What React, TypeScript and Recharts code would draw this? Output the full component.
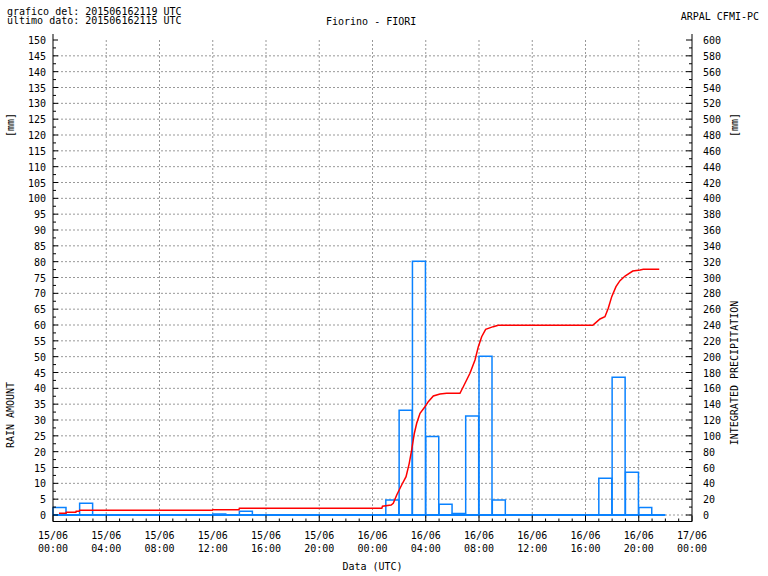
import React from "react";
import { ComposedChart, Bar, Line, XAxis, YAxis, CartesianGrid } from "recharts";

const FONT = "'DejaVu Sans Mono', monospace";

// hourly categories (hours since 15/06 00:00 UTC)
const hourCategories = Array.from({ length: 48 }, (_, i) => i);
// hourly rain amount [mm]
const rainHourly = [
  2.4, 0, 3.7, 0, 0, 0, 0, 0, 0, 0, 0, 0, 0.3, 0, 1.2, 0, 0, 0, 0, 0, 0, 0, 0, 0,
  0, 4.7, 33.1, 80.1, 24.8, 3.4, 0.5, 31.3, 50.1, 4.7, 0, 0, 0, 0, 0, 0, 0, 11.6, 43.5, 13.5, 2.4, 0,
];
// integrated precipitation [mm] (time in hours, value)
const cumHours = [
  0.45, 0.98, 1.0, 1.72, 1.74, 1.97, 2.0, 11.97, 12.0, 13.97, 14.0, 24.7, 24.75, 25.4, 25.56, 25.82,
  26.19, 26.52, 26.76, 26.94, 27.14, 27.32, 27.57, 27.94, 28.19, 28.57, 29.07, 29.57, 30.57, 30.82,
  31.32, 31.7, 31.95, 32.2, 32.5, 33.07, 33.45, 40.54, 40.71, 41.09, 41.46, 41.71, 41.97, 42.29,
  42.59, 42.97, 43.55, 44.1, 44.34, 45.54,
];
const cumValues = [
  2.1, 2.1, 3.4, 3.4, 4.7, 4.7, 5.9, 5.9, 6.7, 6.7, 8.4, 8.4, 11.0, 12.6, 14.7, 25.3, 37.9, 48.4,
  65.3, 82, 103, 115.8, 128.4, 136.8, 143.2, 150.3, 152.8, 153.7, 153.7, 162, 179, 195.8, 212.6,
  225.2, 234.5, 237.9, 239.6, 239.6, 242.1, 247.6, 250.5, 261.1, 275.8, 288.4, 296, 301.9, 308.2,
  309.5, 310.3, 310.3,
];
// extent of the recorded hourly series (baseline)
const baselineHours = [0, 46];

const xTickDates = ["15/06", "15/06", "15/06", "15/06", "15/06", "15/06", "16/06", "16/06", "16/06", "16/06", "16/06", "16/06", "17/06"];
const xTickTimes = ["00:00", "04:00", "08:00", "12:00", "16:00", "20:00", "00:00", "04:00", "08:00", "12:00", "16:00", "20:00", "00:00"];

const xTicks = Array.from({ length: 49 }, (_, i) => i);
const leftTicks = Array.from({ length: 61 }, (_, i) => i * 2.5);
const rightTicks = Array.from({ length: 61 }, (_, i) => i * 10);
const leftGrid = Array.from({ length: 30 }, (_, i) => i * 5);
const vGrid = Array.from({ length: 11 }, (_, i) => (i + 1) * 4);

const barData = hourCategories.map((h, i) => ({ h, rain: i < rainHourly.length ? rainHourly[i] : null }));
const cumData = cumHours.map((t, i) => ({ t, cum: cumValues[i] }));
const baseData = baselineHours.map((t) => ({ t, zero: 0 }));

const BLUE = "#0a82ff";
const RED = "#ff0000";

const BottomTick = (props: any) => {
  const { x, y, payload } = props;
  const v = payload.value;
  const major = v % 4 === 0;
  const idx = v / 4;
  return (
    <g>
      <line x1={x} y1={y} x2={x} y2={y - (major ? 6 : 3)} stroke="#000" />
      {major && (
        <text x={x} y={y + 17.5} textAnchor="middle" fontFamily={FONT} fontSize={10} fill="#000">
          {xTickDates[idx]}
        </text>
      )}
      {major && (
        <text x={x} y={y + 30.5} textAnchor="middle" fontFamily={FONT} fontSize={10} fill="#000">
          {xTickTimes[idx]}
        </text>
      )}
    </g>
  );
};

const TopTick = (props: any) => {
  const { x, y, payload } = props;
  const major = payload.value % 4 === 0;
  return <line x1={x} y1={y} x2={x} y2={y - (major ? 6 : 3)} stroke="#000" />;
};

const LeftTick = (props: any) => {
  const { x, y, payload } = props;
  const v = payload.value;
  const major = v % 5 === 0;
  return (
    <g>
      <line x1={x} y1={y} x2={x + (major ? 5 : 3)} y2={y} stroke="#000" />
      {v === 150 && <line x1={x} y1={y} x2={x} y2={y - 6} stroke="#000" />}
      {major && (
        <text x={x - 7} y={y + 4} textAnchor="end" fontFamily={FONT} fontSize={10} fill="#000">
          {v}
        </text>
      )}
    </g>
  );
};

const RightTick = (props: any) => {
  const { x, y, payload } = props;
  const v = payload.value;
  const major = v % 20 === 0;
  return (
    <g>
      <line x1={x} y1={y} x2={x - (major ? 6 : 3)} y2={y} stroke="#000" />
      {v === 600 && <line x1={x} y1={y} x2={x} y2={y - 6} stroke="#000" />}
      {major && (
        <text x={x + 11} y={y + 4} textAnchor="start" fontFamily={FONT} fontSize={10} fill="#000">
          {v}
        </text>
      )}
    </g>
  );
};

export default function App() {
  const txt = { fontFamily: FONT, fontSize: 10, fill: "#000" } as const;
  return (
    <div style={{ position: "absolute", left: 0, top: 0, width: 768, height: 576, background: "#fff" }}>
      <ComposedChart
        width={768}
        height={576}
        data={barData}
        margin={{ top: 40, right: 0, bottom: 0, left: 0 }}
        barCategoryGap={0}
        barGap={0}
      >
        <CartesianGrid
          xAxisId="t"
          yAxisId="left"
          horizontalValues={leftGrid}
          verticalValues={vGrid}
          stroke="#999"
          strokeDasharray="2 2"
        />
        <XAxis
          xAxisId="t"
          dataKey="t"
          type="number"
          domain={[0, 48]}
          allowDataOverflow
          ticks={xTicks}
          interval={0}
          height={54.5}
          tickSize={0}
          tickMargin={0}
          tickLine={false}
          axisLine={{ stroke: "#000" }}
          tick={<BottomTick />}
        />
        <XAxis xAxisId="bars" dataKey="h" type="category" hide height={0} />
        <XAxis
          xAxisId="top"
          orientation="top"
          type="number"
          domain={[0, 48]}
          allowDataOverflow
          ticks={xTicks}
          interval={0}
          height={0}
          tickSize={0}
          tickMargin={0}
          tickLine={false}
          axisLine={{ stroke: "#000" }}
          tick={<TopTick />}
        />
        <YAxis
          yAxisId="left"
          type="number"
          domain={[-2.0526, 150]}
          allowDataOverflow
          ticks={leftTicks}
          interval={0}
          width={53}
          tickSize={0}
          tickMargin={0}
          tickLine={false}
          axisLine={{ stroke: "#000" }}
          tick={<LeftTick />}
        />
        <YAxis
          yAxisId="right"
          orientation="right"
          type="number"
          domain={[-8.2105, 600]}
          allowDataOverflow
          ticks={rightTicks}
          interval={0}
          width={76}
          tickSize={0}
          tickMargin={0}
          tickLine={false}
          axisLine={{ stroke: "#000" }}
          tick={<RightTick />}
        />
        <Line
          xAxisId="t"
          yAxisId="left"
          data={baseData}
          dataKey="zero"
          stroke={BLUE}
          strokeWidth={2}
          dot={false}
          activeDot={false}
          isAnimationActive={false}
        />
        <Bar
          xAxisId="bars"
          yAxisId="left"
          dataKey="rain"
          fill="none"
          stroke={BLUE}
          strokeWidth={1.5}
          isAnimationActive={false}
        />
        <Line
          xAxisId="t"
          yAxisId="right"
          data={cumData}
          dataKey="cum"
          type="linear"
          stroke={RED}
          strokeWidth={1.5}
          dot={false}
          activeDot={false}
          isAnimationActive={false}
        />
      </ComposedChart>
      <svg
        width={768}
        height={576}
        style={{ position: "absolute", left: 0, top: 0, pointerEvents: "none" }}
      >
        <text x={7} y={15} {...txt}>grafico del: 201506162119 UTC</text>
        <text x={7} y={24} {...txt}>ultimo dato: 201506162115 UTC</text>
        <text x={326} y={25} {...txt}>Fiorino - FIORI</text>
        <text x={759} y={19.5} textAnchor="end" {...txt}>ARPAL CFMI-PC</text>
        <text x={372.5} y={570} textAnchor="middle" {...txt}>Data (UTC)</text>
        <text x={10.5} y={125} textAnchor="middle" dominantBaseline="central" transform="rotate(-90 10.5 125)" {...txt}>[mm]</text>
        <text x={10.5} y={415} textAnchor="middle" dominantBaseline="central" transform="rotate(-90 10.5 415)" {...txt}>RAIN AMOUNT</text>
        <text x={734.5} y={125} textAnchor="middle" dominantBaseline="central" transform="rotate(-90 734.5 125)" {...txt}>[mm]</text>
        <text x={734.5} y={373} textAnchor="middle" dominantBaseline="central" transform="rotate(-90 734.5 373)" {...txt}>INTEGRATED PRECIPITATION</text>
      </svg>
    </div>
  );
}
